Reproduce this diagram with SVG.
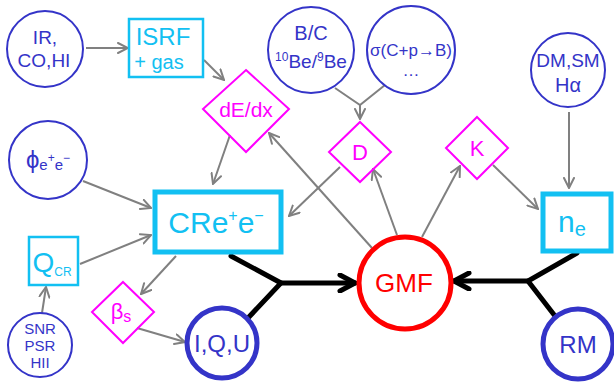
<svg xmlns="http://www.w3.org/2000/svg" width="614" height="385" viewBox="0 0 614 385">
<defs>
<style>
text{font-family:"Liberation Sans","DejaVu Sans",sans-serif;text-anchor:middle}
.blue{fill:none;stroke:#3434c8;stroke-width:2}
.blueT{fill:#3434c8}
.cyan{fill:none;stroke:#12c0f2;stroke-width:2.5}
.cyanT{fill:#12c0f2}
.mag{fill:none;stroke:#ff00ff;stroke-width:2}
.magT{fill:#ff00ff}
.grayl{fill:none;stroke:#808080;stroke-width:2}
.gray{fill:none;stroke:#808080;stroke-width:2;marker-end:url(#ga)}
.blk{fill:none;stroke:#000;stroke-width:5;stroke-linecap:round}
</style>
<marker id="ga" viewBox="0 0 12 12" refX="11" refY="6" markerWidth="12" markerHeight="12" markerUnits="userSpaceOnUse" orient="auto">
<path d="M1,1 L11,6 L1,11" fill="none" stroke="#808080" stroke-width="2" stroke-linecap="round"/>
</marker>
<marker id="ba" viewBox="0 0 20 20" refX="18" refY="10" markerWidth="20" markerHeight="20" markerUnits="userSpaceOnUse" orient="auto">
<path d="M3,2 L18,10 L3,18" fill="none" stroke="#000" stroke-width="5" stroke-linecap="round" stroke-linejoin="round"/>
</marker>
</defs>

<g id="connectors">
<line class="gray" x1="86" y1="48" x2="128" y2="48"/>
<line class="gray" x1="204" y1="60" x2="224" y2="80"/>
<polyline class="grayl" points="335,88 360,105 385,85"/>
<line class="gray" x1="360" y1="105" x2="360" y2="119"/>
<line class="gray" x1="569" y1="112" x2="569" y2="188"/>
<line class="gray" x1="493" y1="165" x2="538" y2="209"/>
<line class="gray" x1="83" y1="181" x2="151" y2="208"/>
<line class="gray" x1="80" y1="264" x2="151" y2="235"/>
<line class="gray" x1="42" y1="313" x2="46" y2="287"/>
<line class="gray" x1="176" y1="256" x2="141" y2="294"/>
<line class="gray" x1="137" y1="328" x2="185" y2="342"/>
<line class="gray" x1="372" y1="248" x2="269" y2="133"/>
<line class="gray" x1="397" y1="235" x2="373" y2="169"/>
<line class="gray" x1="422" y1="237" x2="460" y2="166"/>
<line class="gray" x1="340" y1="167" x2="289" y2="216"/>
<line class="gray" x1="230" y1="135" x2="213" y2="184"/>
<path class="blk" d="M231,256 L281,283 L248,318"/>
<line class="blk" x1="281" y1="283" x2="355" y2="283" marker-end="url(#ba)"/>
<path class="blk" d="M577,253 L528,281 L555,316"/>
<line class="blk" x1="528" y1="281" x2="454" y2="281" marker-end="url(#ba)"/>
</g>

<g id="n-ir"><circle class="blue" cx="45" cy="49" r="38"/>
<text class="blueT" x="45" y="44" font-size="19">IR,</text>
<text class="blueT" x="44" y="67" font-size="19">CO,HI</text></g>

<g id="n-isrf"><rect class="cyan" x="129" y="19" width="74" height="58"/>
<text class="cyanT" x="163" y="45" font-size="24">ISRF</text>
<text class="cyanT" x="159" y="69" font-size="20">+ gas</text></g>

<g id="n-dedx"><polygon class="mag" points="246,70 289,109 246,152 203,109"/>
<text class="magT" x="246" y="117" font-size="21">dE/dx</text></g>

<g id="n-bc"><circle class="blue" cx="311" cy="50" r="43"/>
<text class="blueT" x="311" y="40" font-size="20">B/C</text>
<text class="blueT" x="311" y="68" font-size="19"><tspan font-size="12" dy="-7">10</tspan><tspan dy="7">Be/</tspan><tspan font-size="12" dy="-7">9</tspan><tspan dy="7">Be</tspan></text></g>

<g id="n-sigma"><circle class="blue" cx="411" cy="50" r="44"/>
<text class="blueT" x="411" y="56" font-size="17">σ(C+p→B)</text>
<text class="blueT" x="411" y="76" font-size="17">…</text></g>

<g id="n-dm"><circle class="blue" cx="568" cy="70" r="37"/>
<text class="blueT" x="568" y="67" font-size="19">DM,SM</text>
<text class="blueT" x="568" y="92" font-size="20">Hα</text></g>

<g id="n-phi"><circle class="blue" cx="48" cy="160" r="39"/>
<text class="blueT" x="48" y="168" font-size="24">ϕ<tspan font-size="15" dy="2">e</tspan><tspan font-size="12" dy="-8">+</tspan><tspan font-size="15" dy="8">e</tspan><tspan font-size="12" dy="-8">−</tspan></text></g>

<g id="n-cre"><rect x="155" y="192" width="126" height="60" fill="none" stroke="#12c0f2" stroke-width="5"/>
<text class="cyanT" x="216" y="233" font-size="30">CRe<tspan font-size="16" dy="-12">+</tspan><tspan font-size="30" dy="12">e</tspan><tspan font-size="16" dy="-12">−</tspan></text></g>

<g id="n-d"><polygon class="mag" points="360,122 391,152 360,182 329,152"/>
<text class="magT" x="360" y="160" font-size="22">D</text></g>

<g id="n-k"><polygon class="mag" points="477,117 508,148 477,179 446,148"/>
<text class="magT" x="477" y="156" font-size="22">K</text></g>

<g id="n-ne"><rect x="543" y="194" width="68" height="57" fill="none" stroke="#12c0f2" stroke-width="5"/>
<text class="cyanT" x="572" y="232" font-size="30">n<tspan font-size="20" dy="4">e</tspan></text></g>

<g id="n-qcr"><rect class="cyan" x="29" y="237" width="49" height="48"/>
<text class="cyanT" x="52" y="272" font-size="28">Q<tspan font-size="12" dy="4">CR</tspan></text></g>

<g id="n-snr"><circle class="blue" cx="40" cy="345" r="32"/>
<text class="blueT" x="40" y="334" font-size="15">SNR</text>
<text class="blueT" x="40" y="351" font-size="15">PSR</text>
<text class="blueT" x="40" y="368" font-size="15">HII</text></g>

<g id="n-beta"><polygon class="mag" points="123,282 154,312 123,343 92,312"/>
<text class="magT" x="121" y="319" font-size="22">β<tspan font-size="16" dy="3">s</tspan></text></g>

<g id="n-iqu"><circle cx="222" cy="343" r="35" fill="none" stroke="#3434c8" stroke-width="5"/>
<text class="blueT" x="222" y="352" font-size="24">I,Q,U</text></g>

<g id="n-gmf"><circle cx="405" cy="283" r="46" fill="none" stroke="#ff0000" stroke-width="5"/>
<text x="404" y="292" font-size="26" fill="#ff0000">GMF</text></g>

<g id="n-rm"><circle cx="578" cy="344" r="35" fill="none" stroke="#3434c8" stroke-width="5"/>
<text class="blueT" x="578" y="353" font-size="24">RM</text></g>
</svg>
